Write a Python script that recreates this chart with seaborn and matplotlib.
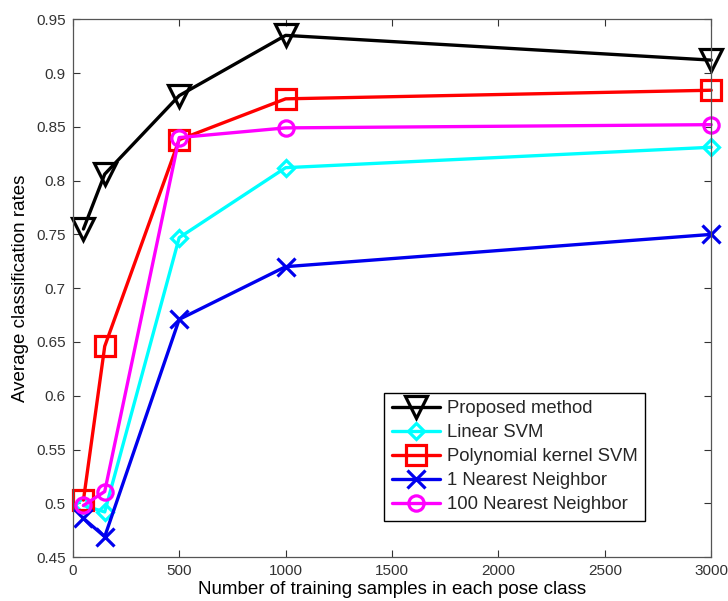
import matplotlib
matplotlib.use("Agg")
import matplotlib.pyplot as plt
import seaborn as sns
import numpy as np

# Training set sizes per pose class
samples = [50, 150, 500, 1000, 3000]

proposed = [0.755, 0.806, 0.879, 0.935, 0.912]
linear_svm = [0.498, 0.492, 0.747, 0.812, 0.831]
poly_svm = [0.503, 0.646, 0.838, 0.876, 0.884]
nn1 = [0.486, 0.469, 0.671, 0.720, 0.750]
nn100 = [0.498, 0.511, 0.840, 0.849, 0.852]

x_ticks = [0, 500, 1000, 1500, 2000, 2500, 3000]
y_ticks = [0.45, 0.5, 0.55, 0.6, 0.65, 0.7, 0.75, 0.8, 0.85, 0.9, 0.95]

sns.set_style("ticks")
plt.rcParams["font.family"] = ["Liberation Sans", "DejaVu Sans"]

fig = plt.figure(figsize=(7.28, 6.01), dpi=100)
ax = fig.add_axes([0.100, 0.073, 0.877, 0.895])

series = [
    ("Proposed method", proposed, "black", "v", 16, 2.4),
    ("Linear SVM", linear_svm, "#00ffff", "D", 8, 2.4),
    ("Polynomial kernel SVM", poly_svm, "#ff0000", "s", 14, 2.4),
    ("1 Nearest Neighbor", nn1, "#0000ee", "x", 13, 2.4),
    ("100 Nearest Neighbor", nn100, "#ff00ff", "o", 11, 2.4),
]

for label, vals, color, marker, msize, lw in series:
    sns.lineplot(x=samples, y=vals, ax=ax, color=color, marker=marker,
                 markersize=msize, markerfacecolor="none", markeredgecolor=color,
                 markeredgewidth=2.3, linewidth=lw, label=label, clip_on=False)

ax.set_xlim(0, 3000)
ax.set_ylim(0.45, 0.95)
ax.set_xticks(x_ticks)
ax.set_yticks(y_ticks)
ax.set_xticklabels([str(t) for t in x_ticks])
ax.set_yticklabels([f"{t:g}" for t in y_ticks])

ax.tick_params(direction="in", top=True, right=True, length=5, width=0.8,
               labelsize=11, colors="#333333", pad=5)
for s in ax.spines.values():
    s.set_visible(True)
    s.set_color("#555555")
    s.set_linewidth(0.9)

ax.set_xlabel("Number of training samples in each pose class", fontsize=13.5, color="black", labelpad=2)
ax.set_ylabel("Average classification rates", fontsize=13.5, color="black", labelpad=5)

leg = ax.legend(loc="lower left", bbox_to_anchor=(0.488, 0.068), fontsize=13.3,
                frameon=True, fancybox=False, edgecolor="black", framealpha=1,
                handlelength=2.6, handletextpad=0.4, borderpad=0.4,
                labelspacing=0.38, borderaxespad=0)
leg.get_frame().set_linewidth(1.0)

fig.savefig("out.png", dpi=100)
